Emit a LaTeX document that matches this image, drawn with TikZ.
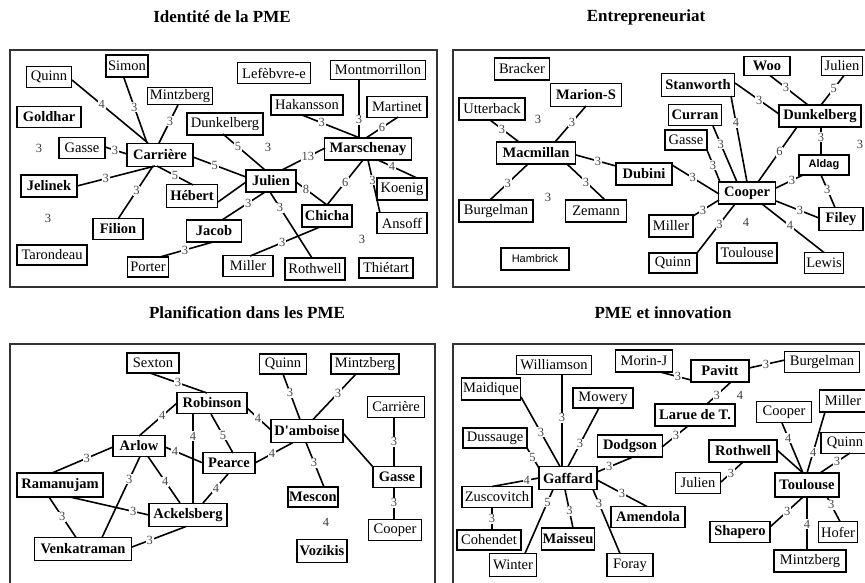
\documentclass[tikz,border=0pt]{standalone}
\usepackage{fontspec}
\setmainfont{Liberation Serif}
\newfontfamily\sansf{Liberation Sans}
\tikzset{
  box/.style={draw, line width=1.7pt, fill=white, inner sep=0pt,
    font=\fontsize{14.5}{16}\selectfont},
  bbox/.style={box, font=\fontsize{14.5}{16}\selectfont\bfseries},
  sbox/.style={box, font=\sansf\fontsize{11}{13}\selectfont},
  sbbox/.style={box, font=\sansf\fontsize{11}{13}\selectfont\bfseries},
  sz/.style 2 args={minimum width=#1pt, minimum height=#2pt},
  edge/.style={line width=1.6pt},
  thinedge/.style={line width=1.1pt},
  lab/.style={fill=white, inner sep=0.8pt, text=black!72,
    font=\fontsize{12.5}{12.5}\selectfont},
  free/.style={inner sep=0pt, text=black!78, font=\fontsize{12.5}{12.5}\selectfont},
  frame/.style={line width=1.5pt, draw=black!80},
  ttl/.style={font=\fontsize{17}{20}\selectfont\bfseries}
}
% labelled connector: from node #1 (+offset #2) to node #3 (+offset #4), label #6 at pos #5
\newcommand\cnx[6]{\draw[edge] ([shift={(#2)}]#1.center) -- node[lab,pos=#5]{#6} ([shift={(#4)}]#3.center);}
\newcommand\cnxt[6]{\draw[thinedge] ([shift={(#2)}]#1.center) -- node[lab,pos=#5]{#6} ([shift={(#4)}]#3.center);}
\begin{document}
\begin{tikzpicture}[x=1pt,y=-1pt]
\useasboundingbox (0,0) rectangle (865,582);
\clip (0,0) rectangle (865,582);

% ---------- titles and frames ----------
\node[ttl] (t1) at (222,17) {Identité de la PME};
\node[ttl] (t2) at (646,17) {Entrepreneuriat};
\node[ttl] (t3) at (247,313) {Planification dans les PME};
\node[ttl] (t4) at (663,313) {PME et innovation};
\draw[frame] (10,50) rectangle (437,287);
\draw[frame] (453,50) rectangle (880,287);
\draw[frame] (10,344) rectangle (435,600);
\draw[frame] (453,344) rectangle (880,600);

% ---------- Identité de la PME ----------
\node[box,sz={45}{21}] (quinnA) at (49,77) {Quinn};
\node[box,sz={42}{22}] (simonA) at (127,66) {Simon};
\node[box,sz={65}{17}] (mintzA) at (180,96) {Mintzberg};
\node[bbox,sz={64}{21}] (goldhar) at (49,117) {Goldhar};
\node[box,sz={46}{21}] (gasseA) at (82,148) {Gasse};
\node[bbox,sz={66}{23}] (carriereA) at (160,155) {Carrière};
\node[bbox,sz={56}{22}] (jelinek) at (49,186) {Jelinek};
\node[bbox,sz={50}{21}] (filion) at (118,229) {Filion};
\node[box,sz={70}{20}] (tarondeau) at (52,255) {Tarondeau};
\node[box,sz={41}{20}] (porter) at (148,267) {Porter};
\node[bbox,sz={55}{22}] (jacob) at (214,231) {Jacob};
\node[bbox,sz={51}{23}] (hebert) at (192,196) {Hébert};
\node[box,sz={73}{21}] (lefebvre) at (274,73) {Lefèbvre-e};
\node[box,sz={95}{19}] (montmo) at (378,70) {Montmorrillon};
\node[box,sz={72}{20}] (hakansson) at (307,105) {Hakansson};
\node[box,sz={60}{21}] (martinet) at (397,107) {Martinet};
\node[box,sz={76}{22}] (dunkelA) at (225,124) {Dunkelberg};
\node[bbox,sz={87}{22}] (marschenay) at (368,149) {Marschenay};
\node[bbox,sz={50}{22}] (julienA) at (271,181) {Julien};
\node[box,sz={50}{22}] (koenig) at (402,189) {Koenig};
\node[bbox,sz={50}{22}] (chicha) at (327,216) {Chicha};
\node[box,sz={50}{21}] (ansoff) at (402,223) {Ansoff};
\node[box,sz={50}{21}] (millerA) at (248,266) {Miller};
\node[box,sz={60}{22}] (rothwellA) at (315,269) {Rothwell};
\node[box,sz={54}{20}] (thietart) at (386,268) {Thiétart};
\node[free] (fa1) at (39,148) {3};
\node[free] (fa2) at (48,218) {3};
\node[free] (fa3) at (268,147) {3};
\node[free] (fa4) at (362,239) {3};

\cnx{quinnA}{23,3}{carriereA}{-12,-12}{.39}{4}
\cnx{simonA}{-3,12}{carriereA}{-13,-12}{.45}{3}
\cnx{mintzA}{-2,9}{carriereA}{-1,-12}{.42}{3}
\cnx{gasseA}{23,-1}{carriereA}{-33,-1}{.45}{3}
\cnx{jelinek}{28,0}{carriereA}{-5,11}{.37}{3}
\cnx{carriereA}{-7,11}{filion}{0,-10}{.47}{3}
\cnx{carriereA}{-3,11}{hebert}{1,-11}{.5}{5}
\cnx{carriereA}{33,2}{julienA}{-25,-4}{.41}{5}
\cnx{dunkelA}{-2,10}{julienA}{-6,-11}{.36}{5}
\cnx{julienA}{11,-11}{marschenay}{-43,-1}{.6}{13}
\cnx{hakansson}{-5,10}{marschenay}{-8,-11}{.34}{3}
\cnxt{montmo}{-19,9}{marschenay}{-9,-11}{.69}{3}
\cnx{martinet}{1,10}{marschenay}{-2,-11}{.5}{6}
\cnx{marschenay}{10,11}{koenig}{15,-11}{.36}{4}
\cnx{marschenay}{0,11}{ansoff}{-22,-10}{.38}{3}
\cnx{marschenay}{-5,11}{chicha}{0,-11}{.49}{6}
\cnx{julienA}{25,1}{chicha}{0,-11}{.32}{8}
\cnx{julienA}{-1,11}{rothwellA}{-3,-11}{.24}{3}
\cnx{julienA}{-6,11}{jacob}{8,-11}{.39}{3}
\draw[edge] ([shift={(-25,1)}]julienA.center) -- ([shift={(26,6)}]hebert.center);
\cnx{chicha}{-7,11}{millerA}{2,-10}{.54}{3}
\cnx{jacob}{-1,11}{porter}{12,-10}{.53}{3}

% ---------- Entrepreneuriat ----------
\node[box,sz={55}{22}] (bracker) at (522,69) {Bracker};
\node[bbox,sz={71}{23}] (marions) at (586,95) {Marion-S};
\node[box,sz={66}{22}] (utterback) at (492,109) {Utterback};
\node[bbox,sz={79}{22}] (macmillan) at (536,153) {Macmillan};
\node[bbox,sz={56}{22}] (dubini) at (644,174) {Dubini};
\node[box,sz={74}{22}] (burgelmanB) at (496,211) {Burgelman};
\node[box,sz={61}{22}] (zemann) at (596,211) {Zemann};
\node[sbox,sz={68}{22}] (hambrick) at (535,259) {Hambrick};
\node[bbox,sz={73}{23}] (stanworth) at (698,85) {Stanworth};
\node[bbox,sz={46}{19}] (woo) at (767,66) {Woo};
\node[box,sz={41}{19}] (julienB) at (842,66) {Julien};
\node[bbox,sz={53}{21}] (curran) at (695,115) {Curran};
\node[bbox,sz={82}{22}] (dunkelB) at (820,116) {Dunkelberg};
\node[box,sz={42}{20}] (gasseB) at (686,140) {Gasse};
\node[sbbox,sz={50}{20}] (aldag) at (824,165) {Aldag};
\node[bbox,sz={57}{22}] (cooperB) at (747,193) {Cooper};
\node[box,sz={44}{22}] (millerB) at (671,226) {Miller};
\node[bbox,sz={44}{23}] (filey) at (841,219) {Filey};
\node[box,sz={60}{20}] (toulouseB) at (747,253) {Toulouse};
\node[box,sz={48}{20}] (quinnB) at (673,263) {Quinn};
\node[box,sz={39}{21}] (lewis) at (824,263) {Lewis};
\node[free] (fb1) at (538,119) {3};
\node[free] (fb2) at (548,197) {3};
\node[free] (fb3) at (860,144) {3};
\node[free] (fb4) at (746,222) {4};

\cnx{utterback}{-2,11}{macmillan}{-17,-11}{.41}{3}
\cnx{marions}{0,11}{macmillan}{19,-11}{.45}{3}
\cnx{macmillan}{40,2}{dubini}{-28,-8}{.55}{3}
\cnx{macmillan}{-8,11}{burgelmanB}{-6,-11}{.53}{3}
\cnx{macmillan}{31,11}{zemann}{9,-11}{.5}{3}
\cnx{dubini}{28,-9}{cooperB}{-28,1}{.44}{3}
\cnx{stanworth}{37,-2}{dunkelB}{-41,-2}{.55}{3}
\cnx{stanworth}{33,11}{cooperB}{0,-11}{.31}{4}
\cnx{curran}{18,11}{cooperB}{-10,-11}{.32}{3}
\cnx{gasseB}{21,10}{cooperB}{-27,-11}{.47}{3}
\cnx{woo}{3,9.5}{dunkelB}{-12,-11}{.42}{3}
\cnx{julienB}{2,9.5}{dunkelB}{1,-11}{.45}{5}
\cnx{dunkelB}{-23,11}{cooperB}{11,-11}{.45}{6}
\cnxt{dunkelB}{1,11}{aldag}{-3,-10}{.36}{3}
\cnx{aldag}{-21,10}{cooperB}{29,-5}{.41}{3}
\cnx{aldag}{-3,10}{filey}{-6,-11.5}{.45}{3}
\cnx{cooperB}{29,8}{filey}{-22,-1}{.56}{3}
\cnx{cooperB}{15,11}{lewis}{0,-10.5}{.45}{4}
\cnx{cooperB}{-28,7}{millerB}{22,-10}{.62}{3}
\cnx{cooperB}{-12,11}{quinnB}{24,-10}{.41}{3}

% ---------- Planification dans les PME ----------
\node[box,sz={52}{20}] (sexton) at (153,363) {Sexton};
\node[bbox,sz={70}{21}] (robinson) at (212,403) {Robinson};
\node[bbox,sz={52}{21}] (arlow) at (139,446) {Arlow};
\node[bbox,sz={52}{21}] (pearce) at (229,463) {Pearce};
\node[bbox,sz={86}{24}] (ramanujam) at (60,485) {Ramanujam};
\node[bbox,sz={78}{23}] (ackelsberg) at (188,515) {Ackelsberg};
\node[bbox,sz={97}{23}] (venkatraman) at (83,549) {Venkatraman};
\node[bbox,sz={72}{23}] (damboise) at (307,431) {D\textquotesingle amboise};
\node[box,sz={47}{20}] (quinnC) at (283,364) {Quinn};
\node[box,sz={68}{20}] (mintzC) at (365,364) {Mintzberg};
\node[box,sz={57}{21}] (carriereC) at (396,407) {Carrière};
\node[bbox,sz={48}{21}] (gasseC) at (397,477) {Gasse};
\node[bbox,sz={50}{20}] (mescon) at (313,497) {Mescon};
\node[box,sz={53}{21}] (cooperC) at (395,530) {Cooper};
\node[bbox,sz={50}{23}] (vozikis) at (322,551) {Vozikis};
\node[free] (fc1) at (326,522) {4};

\cnx{sexton}{-3,10}{robinson}{-5,-10}{.49}{3}
\cnx{robinson}{-35,0}{arlow}{0,-10}{.39}{4}
\cnx{robinson}{-19,11}{ackelsberg}{5,-11.5}{.25}{4}
\cnx{robinson}{-1,11}{pearce}{4,-10}{.54}{5}
\cnx{robinson}{35,5}{damboise}{-36,-1}{.46}{4}
\cnx{arlow}{26,1}{pearce}{-26,0}{.26}{4}
\cnx{arlow}{9,10.5}{ackelsberg}{-8,-12}{.54}{4}
\cnx{arlow}{-26,1}{ramanujam}{-8,-12}{.43}{3}
\cnx{arlow}{1,10.5}{venkatraman}{19,-11.5}{.28}{3}
\cnx{ramanujam}{10,12}{ackelsberg}{-39,0}{.8}{3}
\cnx{ramanujam}{-11,12}{venkatraman}{-7,-11.5}{.49}{3}
\cnx{venkatraman}{49,-2}{ackelsberg}{-2,11.5}{.33}{3}
\cnx{pearce}{-1,11}{ackelsberg}{15,-12}{.48}{4}
\cnx{pearce}{26,0}{damboise}{-14,11.5}{.45}{4}
\cnx{quinnC}{0,10}{damboise}{-7,-11.5}{.41}{3}
\cnx{mintzC}{-9,10}{damboise}{6,-11.5}{.42}{3}
\cnx{damboise}{-1,11.5}{mescon}{11,-10}{.45}{3}
\draw[edge] ([shift={(36,2)}]damboise.center) -- ([shift={(-24,-10)}]gasseC.center);
\cnxt{carriereC}{-2,10.5}{gasseC}{-3,-10.5}{.49}{3}
\cnxt{gasseC}{-3,10.5}{cooperC}{-1,-10.5}{.47}{3}

% ---------- PME et innovation ----------
\node[box,sz={75}{19}] (williamson) at (554,365) {Williamson};
\node[box,sz={59}{22}] (maidique) at (491,389) {Maidique};
\node[box,sz={57}{22}] (morinj) at (644,361) {Morin-J};
\node[bbox,sz={58}{22}] (pavitt) at (720,371) {Pavitt};
\node[box,sz={75}{21}] (burgelmanD) at (822,362) {Burgelman};
\node[box,sz={60}{20}] (mowery) at (603,398) {Mowery};
\node[bbox,sz={80}{22}] (larue) at (695,415) {Larue de T.};
\node[box,sz={64}{20}] (dussauge) at (495,438) {Dussauge};
\node[bbox,sz={65}{22}] (dodgson) at (630,446) {Dodgson};
\node[box,sz={55}{21}] (cooperD) at (784,412) {Cooper};
\node[box,sz={47}{22}] (millerD) at (843,401) {Miller};
\node[bbox,sz={68}{22}] (rothwellD) at (743,451) {Rothwell};
\node[box,sz={48}{21}] (quinnD) at (845,443) {Quinn};
\node[bbox,sz={58}{23}] (gaffard) at (568,478) {Gaffard};
\node[box,sz={45}{21}] (julienD) at (698,483) {Julien};
\node[bbox,sz={64}{24}] (toulouseD) at (807,485) {Toulouse};
\node[box,sz={70}{21}] (zuscovitch) at (497,497) {Zuscovitch};
\node[bbox,sz={74}{21}] (amendola) at (648,517) {Amendola};
\node[box,sz={64}{20}] (cohendet) at (489,540) {Cohendet};
\node[bbox,sz={53}{22}] (maisseu) at (568,539) {Maisseu};
\node[bbox,sz={60}{21}] (shapero) at (740,532) {Shapero};
\node[box,sz={39}{21}] (hofer) at (838,532) {Hofer};
\node[box,sz={47}{23}] (winter) at (513,565) {Winter};
\node[box,sz={46}{23}] (foray) at (630,565) {Foray};
\node[box,sz={72}{22}] (mintzD) at (810,561) {Mintzberg};
\node[free] (fd1) at (740,395) {4};

\cnxt{williamson}{8,9.5}{gaffard}{-6,-11.5}{.47}{3}
\cnx{maidique}{30,8}{gaffard}{-8,-11.5}{.51}{3}
\cnx{mowery}{-4,10}{gaffard}{0,-11.5}{.61}{3}
\cnx{dussauge}{32,10}{gaffard}{-29,-10}{.45}{5}
\cnx{gaffard}{-29,0}{zuscovitch}{-5,-10.5}{.26}{4}
\cnxt{zuscovitch}{-5,10.5}{cohendet}{3,-10}{.5}{3}
\cnx{gaffard}{-15,11.5}{winter}{12,-11.5}{.2}{5}
\cnx{gaffard}{-3,11.5}{maisseu}{5,-11}{.55}{3}
\cnx{gaffard}{25,11.5}{foray}{-10,-11.5}{.22}{3}
\cnx{gaffard}{29,2}{amendola}{-1,-10.5}{.5}{3}
\cnx{dodgson}{3,11}{gaffard}{29,-6}{.66}{3}
\cnx{morinj}{16,11}{pavitt}{-29,9}{.58}{3}
\cnx{pavitt}{29,-3}{burgelmanD}{-37,-2}{.47}{3}
\cnx{pavitt}{11,11}{larue}{12,-11}{.59}{3}
\cnx{larue}{-7,11}{dodgson}{32,1}{.46}{3}
\draw[edge] ([shift={(34,-1)}]rothwellD.center) -- ([shift={(-4,-12)}]toulouseD.center);
\cnx{cooperD}{-2,11}{toulouseD}{-4,-12}{.3}{4}
\cnx{millerD}{-18,11}{toulouseD}{0,-12}{.66}{4}
\cnx{quinnD}{5,10}{toulouseD}{13,-12}{.43}{3}
\cnx{rothwellD}{0,11}{julienD}{23,-1}{.55}{3}
\cnx{toulouseD}{-4,12}{shapero}{30,-5}{.48}{3}
\cnxt{toulouseD}{0,12}{mintzD}{-3,-11}{.51}{4}
\cnx{toulouseD}{20,12}{hofer}{2,-10.5}{.32}{3}
\end{tikzpicture}
\end{document}
